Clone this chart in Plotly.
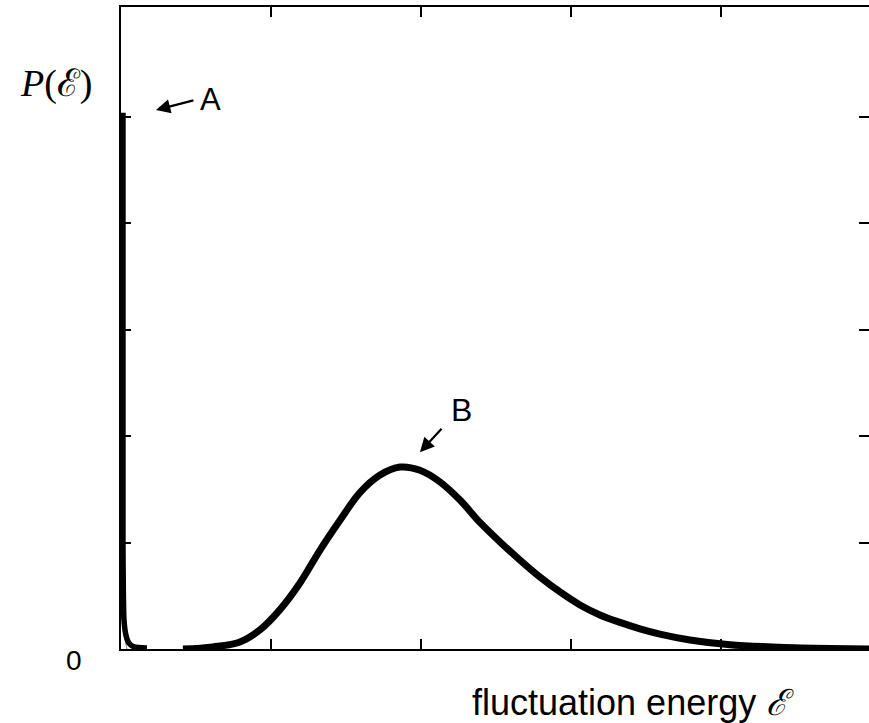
import plotly.graph_objects as go

# Curve B (broad peak)
b_x = [0.413, 0.613, 0.793, 0.927, 1.06, 1.193, 1.327, 1.46, 1.593, 1.727, 1.86, 1.993,
       2.127, 2.26, 2.393, 2.527, 2.66, 2.793, 2.927, 3.06, 3.193, 3.327, 3.46, 3.593,
       3.793, 4.06, 4.393, 4.727, 4.99]
b_y = [0.0, 0.02, 0.066, 0.18, 0.37, 0.62, 0.93, 1.21, 1.47, 1.635, 1.71, 1.68,
       1.57, 1.40, 1.19, 1.006, 0.836, 0.677, 0.536, 0.414, 0.32, 0.25, 0.19, 0.14,
       0.085, 0.04, 0.017, 0.005, 0.0]

# Spike A near zero energy
a_x = [0.013, 0.013, 0.016, 0.02, 0.033, 0.053, 0.087, 0.173]
a_y = [5.04, 1.0, 0.5, 0.27, 0.13, 0.056, 0.02, 0.01]

# faint thin trace next to the spike
t_x = [0.003, 0.02, 0.04]
t_y = [0.4, 0.12, 0.0]

tick_x = [1, 2, 3, 4]
tick_y = [1, 2, 3, 4, 5]

fig = go.Figure()
fig.add_trace(go.Scatter(x=t_x, y=t_y, mode="lines",
                         line=dict(color="#888888", width=1), hoverinfo="skip"))
fig.add_trace(go.Scatter(x=a_x, y=a_y, mode="lines",
                         line=dict(color="black", width=5.5, shape="spline", smoothing=0.6),
                         hoverinfo="skip"))
fig.add_trace(go.Scatter(x=b_x, y=b_y, mode="lines",
                         line=dict(color="black", width=7, shape="spline", smoothing=1.0),
                         hoverinfo="skip"))
# invisible trace so the top and right tick axes are drawn
fig.add_trace(go.Scatter(x=[b_x[0]], y=[b_y[0]], xaxis="x2", yaxis="y2", mode="markers",
                         marker=dict(opacity=0), hoverinfo="skip"))

tick_style = dict(showgrid=False, zeroline=False, ticks="inside", ticklen=10,
                  tickwidth=2, tickcolor="black", showticklabels=False)

fig.update_layout(
    width=869, height=723,
    margin=dict(l=121, r=0, t=7, b=74),
    paper_bgcolor="white", plot_bgcolor="white",
    showlegend=False,
    xaxis=dict(range=[0, 4.987], tickvals=tick_x, showline=True, linecolor="black",
               linewidth=2, mirror=False, **tick_style),
    xaxis2=dict(range=[0, 4.987], tickvals=tick_x, overlaying="x", side="top",
                anchor="y", showline=True, linecolor="black", linewidth=2, **tick_style),
    yaxis=dict(range=[0, 6.034], tickvals=tick_y, showline=True, linecolor="black",
               linewidth=2, mirror=False, **tick_style),
    yaxis2=dict(range=[0, 6.034], tickvals=tick_y, overlaying="y", side="right",
                anchor="x", showline=False, **tick_style),
)

sans = "Liberation Sans, Arial, sans-serif"
serif = "Liberation Serif, DejaVu Serif, serif"

fig.add_annotation(x=0.233, y=5.066, ax=39, ay=-10, xref="x", yref="y",
                   axref="pixel", ayref="pixel", text="", showarrow=True,
                   arrowhead=2, arrowsize=1.3, arrowwidth=2.2, arrowcolor="black")
fig.add_annotation(x=0.60, y=5.16, xref="x", yref="y", text="A", showarrow=False,
                   xanchor="center", yanchor="middle",
                   font=dict(family=sans, size=31, color="black"))
fig.add_annotation(x=1.993, y=1.85, ax=23, ay=-25, xref="x", yref="y",
                   axref="pixel", ayref="pixel", text="", showarrow=True,
                   arrowhead=2, arrowsize=1.3, arrowwidth=2.2, arrowcolor="black")
fig.add_annotation(x=2.273, y=2.246, xref="x", yref="y", text="B", showarrow=False,
                   xanchor="center", yanchor="middle",
                   font=dict(family=sans, size=32, color="black"))

fig.add_annotation(x=(56 - 121) / 748.0, y=(649 - 84) / 642.0, xref="paper", yref="paper",
                   text="<i>P</i>(ℰ)", showarrow=False, xanchor="center", yanchor="middle",
                   font=dict(family=serif, size=38, color="black"))
fig.add_annotation(x=(74 - 121) / 748.0, y=(649 - 660) / 642.0, xref="paper", yref="paper",
                   text="0", showarrow=False, xanchor="center", yanchor="middle",
                   font=dict(family=sans, size=28, color="black"))
fig.add_annotation(x=(633 - 121) / 748.0, y=(649 - 703) / 642.0, xref="paper", yref="paper",
                   text="fluctuation energy <span style='font-family:Liberation Serif'><i>ℰ</i></span>",
                   showarrow=False, xanchor="center", yanchor="middle",
                   font=dict(family=sans, size=36, color="black"))

fig.write_html("out.html", config={"displayModeBar": False},
               post_script="document.body.style.margin='0';document.body.style.overflow='hidden';")
